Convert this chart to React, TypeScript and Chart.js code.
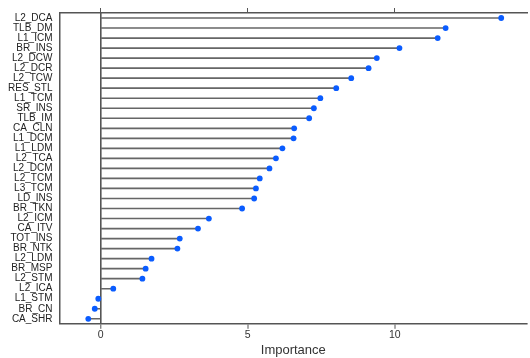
import React, { useEffect, useRef } from "react";
import { Chart, registerables } from "chart.js";

Chart.register(...registerables);

const categories = [
  "L2_DCA", "TLB_DM", "L1_ICM", "BR_INS", "L2_DCW", "L2_DCR", "L2_TCW", "RES_STL",
  "L1_TCM", "SR_INS", "TLB_IM", "CA_CLN", "L1_DCM", "L1_LDM", "L2_TCA", "L2_DCM",
  "L2_TCM", "L3_TCM", "LD_INS", "BR_TKN", "L2_ICM", "CA_ITV", "TOT_INS", "BR_NTK",
  "L2_LDM", "BR_MSP", "L2_STM", "L2_ICA", "L1_STM", "BR_CN", "CA_SHR",
];

const importance = [
  13.62, 11.73, 11.46, 10.16, 9.39, 9.11, 8.52, 8.01,
  7.47, 7.25, 7.09, 6.58, 6.56, 6.18, 5.96, 5.74,
  5.41, 5.28, 5.22, 4.81, 3.68, 3.31, 2.69, 2.61,
  1.73, 1.53, 1.42, 0.43, -0.08, -0.2, -0.42,
];

const xTicks = [0, 5, 10];
const xMin = -1.4;
const xMax = 14.5;

export default function App() {
  const ref = useRef<HTMLCanvasElement | null>(null);

  useEffect(() => {
    if (!ref.current) return;
    const fontFamily = "'Liberation Sans', Arial, Helvetica, sans-serif";
    const axisColor = "#555";
    const setTicks = (axis: any) => {
      axis.ticks = xTicks.map((v) => ({ value: v }));
    };
    const chart = new Chart(ref.current, {
      type: "bar",
      data: {
        labels: categories,
        datasets: [
          {
            type: "line",
            data: importance,
            showLine: false,
            pointRadius: 2.9,
            pointHoverRadius: 2.9,
            pointBackgroundColor: "#0a5cff",
            pointBorderWidth: 0,
            xAxisID: "x",
            yAxisID: "y",
            order: 0,
          } as any,
          {
            type: "bar",
            data: importance,
            backgroundColor: "#666",
            barThickness: 1,
            xAxisID: "x",
            yAxisID: "y",
            order: 1,
          } as any,
        ],
      },
      options: {
        indexAxis: "y",
        animation: false,
        responsive: false,
        layout: { padding: { left: 1, right: 0, top: 0, bottom: 0 } },
        plugins: { legend: { display: false }, tooltip: { enabled: false } },
        scales: {
          x: {
            type: "linear",
            position: "bottom",
            min: xMin,
            max: xMax,
            afterBuildTicks: setTicks,
            ticks: {
              font: { family: fontFamily, size: 10.5 },
              color: "#333",
              padding: 0,
            },
            grid: {
              display: true,
              drawOnChartArea: true,
              color: (ctx: any) => (ctx.tick && ctx.tick.value === 0 ? axisColor : "rgba(0,0,0,0)"),
              lineWidth: (ctx: any) => (ctx.tick && ctx.tick.value === 0 ? 1.6 : 0),
              tickColor: axisColor,
              tickWidth: 1,
              tickLength: 5,
              drawTicks: true,
            },
            border: { display: true, color: axisColor, width: 1.5 },
            title: {
              display: true,
              text: "Importance",
              color: "#333",
              font: { family: fontFamily, size: 13 },
              padding: { top: 1, bottom: 0 },
            },
          },
          x2: {
            type: "linear",
            position: "top",
            min: xMin,
            max: xMax,
            afterBuildTicks: setTicks,
            ticks: { display: false },
            grid: {
              display: true,
              drawOnChartArea: false,
              tickColor: axisColor,
              tickWidth: 1,
              tickLength: 5,
              drawTicks: true,
            },
            border: { display: true, color: axisColor, width: 1.5 },
          },
          y: {
            type: "category",
            position: "left",
            offset: true,
            ticks: {
              font: { family: fontFamily, size: 10 },
              color: "#222",
              padding: 7,
              autoSkip: false,
            },
            grid: { display: false, drawTicks: false },
            border: { display: true, color: axisColor, width: 1.5 },
          },
        },
      } as any,
    });
    return () => chart.destroy();
  }, []);

  return (
    <div style={{ position: "fixed", left: 0, top: 0, width: 530, height: 358, background: "#fff" }}>
      <canvas ref={ref} width={530} height={358} style={{ display: "block" }} />
    </div>
  );
}
